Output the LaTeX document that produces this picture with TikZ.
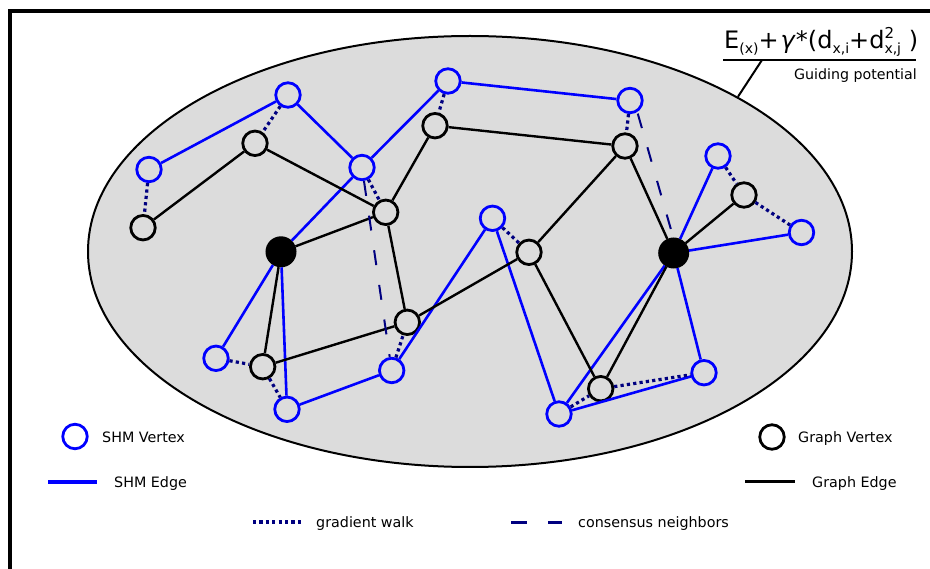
\documentclass[tikz,border=0pt]{standalone}
\usepackage{fontspec}
\setmainfont{DejaVu Sans}
\usetikzlibrary{shapes.geometric}
\definecolor{shmblue}{RGB}{0,0,255}
\definecolor{walknavy}{RGB}{0,0,128}
\definecolor{regiongray}{RGB}{220,220,220}
% lowered and raised small text for the potential formula
\newcommand{\fsub}[1]{\raisebox{-5pt}{\fontsize{14}{15}\selectfont #1}}
\newcommand{\fsup}[1]{\raisebox{9.5pt}{\fontsize{15}{16}\selectfont #1}}

\begin{document}
\begin{tikzpicture}[x=1pt,y=-1pt,
  shmv/.style={circle, draw=shmblue, line width=2.8pt, minimum size=24.5pt, inner sep=0pt, fill=regiongray},
  gv/.style={circle, draw=black, line width=2.8pt, minimum size=24.5pt, inner sep=0pt, fill=regiongray},
  hub/.style={circle, draw=black, fill=black, line width=2pt, minimum size=29pt, inner sep=0pt},
  shme/.style={draw=shmblue, line width=2.6pt},
  ge/.style={draw=black, line width=2.4pt},
  walk/.style={draw=walknavy, line width=3.2pt, dash pattern=on 3.2pt off 3.2pt},
  consensus/.style={draw=walknavy, line width=2pt, dash pattern=on 15pt off 20pt},
  lbl/.style={anchor=base west, inner sep=0pt, font=\fontsize{14.3}{17}\selectfont},
]
\useasboundingbox (0,0) rectangle (930,569);

% frame
\draw[line width=4.8pt] (10,569) -- (10,11) -- (930,11);

% region holding both graphs
\node[ellipse, draw=black, line width=2pt, fill=regiongray,
      minimum width=764pt, minimum height=431pt, inner sep=0pt] (region) at (470,251.5) {};

% guiding potential annotation
\node[anchor=base west, inner sep=0pt, font=\fontsize{24}{29}\selectfont] (formula) at (724,48.5)
  {E\fsub{(x)}+\hspace{2pt}\textit{γ}*(d\fsub{x,i}+d\rlap{\fsup{2}}\fsub{x,j} )};
\coordinate (ulL) at (723,60);
\coordinate (ulR) at (916,60);
\coordinate (ulK) at (762,60);
\draw[line width=2.5pt] (ulL) -- (ulR);
\draw[line width=2pt] (ulK) -- (region.30.6);
\node[anchor=base east, inner sep=0pt, font=\fontsize{14.2}{17}\selectfont] (guide) at (917,80) {Guiding potential};

% SHM vertices
\node[shmv] (s1) at (149,169.5) {};
\node[shmv] (s2) at (288,95) {};
\node[shmv] (s3) at (362,167.5) {};
\node[shmv] (s4) at (448,81) {};
\node[shmv] (s5) at (630,100.5) {};
\node[shmv] (s6) at (718,156) {};
\node[shmv] (s7) at (801.5,232.5) {};
\node[shmv] (s8) at (492.5,218.3) {};
\node[shmv] (s9) at (216,358.3) {};
\node[shmv] (s10) at (287,409.3) {};
\node[shmv] (s11) at (391.7,370.5) {};
\node[shmv] (s12) at (559,414) {};
\node[shmv] (s13) at (704,372.7) {};

% graph vertices
\node[gv] (g1) at (143,227.7) {};
\node[gv] (g2) at (255,143.3) {};
\node[gv] (g3) at (385.7,212.3) {};
\node[gv] (g4) at (435,125.7) {};
\node[gv] (g5) at (625,146) {};
\node[gv] (g6) at (744,195) {};
\node[gv] (g7) at (529,252.3) {};
\node[gv] (g8) at (407.3,322.3) {};
\node[gv] (g9) at (262.7,366.7) {};
\node[gv] (g10) at (600.7,388.7) {};
\node[hub] (h1) at (281,251.8) {};
\node[hub] (h2) at (673.7,253) {};

% SHM edges
\draw[shme] (s1) -- (s2);
\draw[shme] (s2) -- (s3);
\draw[shme] (s3) -- (s4);
\draw[shme] (s3) -- (h1);
\draw[shme] (s4) -- (s5);
\draw[shme] (h1) -- (s9);
\draw[shme] (h1) -- (s10);
\draw[shme] (s10) -- (s11);
\draw[shme] (s11) -- (s8);
\draw[shme] (s8) -- (s12);
\draw[shme] (s12) -- (s13);
\draw[shme] (s12) -- (h2);
\draw[shme] (s13) -- (h2);
\draw[shme] (h2) -- (s6);
\draw[shme] (h2) -- (s7);

% graph edges
\draw[ge] (g1) -- (g2);
\draw[ge] (g2) -- (g3);
\draw[ge] (g3) -- (h1);
\draw[ge] (g3) -- (g4);
\draw[ge] (g3) -- (g8);
\draw[ge] (g4) -- (g5);
\draw[ge] (g5) -- (g7);
\draw[ge] (g5) -- (h2);
\draw[ge] (g6) -- (h2);
\draw[ge] (g7) -- (g8);
\draw[ge] (g7) -- (g10);
\draw[ge] (g10) -- (h2);
\draw[ge] (g8) -- (g9);
\draw[ge] (g9) -- (h1);

% gradient walks
\draw[walk] (s1) -- (g1);
\draw[walk] (s2) -- (g2);
\draw[walk] (s3) -- (g3);
\draw[walk] (s4) -- (g4);
\draw[walk] (s5) -- (g5);
\draw[walk] (s6) -- (g6);
\draw[walk] (g6) -- (s7);
\draw[walk] (s8) -- (g7);
\draw[walk] (s9) -- (g9);
\draw[walk] (g9) -- (s10);
\draw[walk] (s11) -- (g8);
\draw[walk] (s12) -- (g10);
\draw[walk] (g10) -- (s13);

% consensus neighbours
\draw[consensus] (s3) -- (s11);
\draw[consensus, transform canvas={xshift=4pt}] (s5) -- (h2);

% legend
\node[shmv, fill=none] (legS) at (75,436.5) {};
\node[lbl] (legStxt) at (102,443) {SHM Vertex};
\coordinate (legEa) at (48,482);
\coordinate (legEb) at (97,482);
\draw[shme, line width=4.5pt] (legEa) -- (legEb);
\node[lbl] (legEtxt) at (114,487.5) {SHM Edge};

\node[gv, fill=none] (legG) at (772,437) {};
\node[lbl] (legGtxt) at (798,443) {Graph Vertex};
\coordinate (legGa) at (745,482);
\coordinate (legGb) at (795,482);
\draw[ge, line width=3pt] (legGa) -- (legGb);
\node[lbl] (legGEtxt) at (812,487.5) {Graph Edge};

\coordinate (legWa) at (253,522);
\coordinate (legWb) at (302,522);
\draw[walk, line width=3.5pt] (legWa) -- (legWb);
\node[lbl] (legWtxt) at (316,527) {gradient walk};

\coordinate (legCa) at (511,522);
\coordinate (legCb) at (562,522);
\draw[consensus, line width=3pt, dash pattern=on 16pt off 21pt] (legCa) -- (legCb);
\node[lbl] (legCtxt) at (578,527) {consensus neighbors};
\end{tikzpicture}
\end{document}
